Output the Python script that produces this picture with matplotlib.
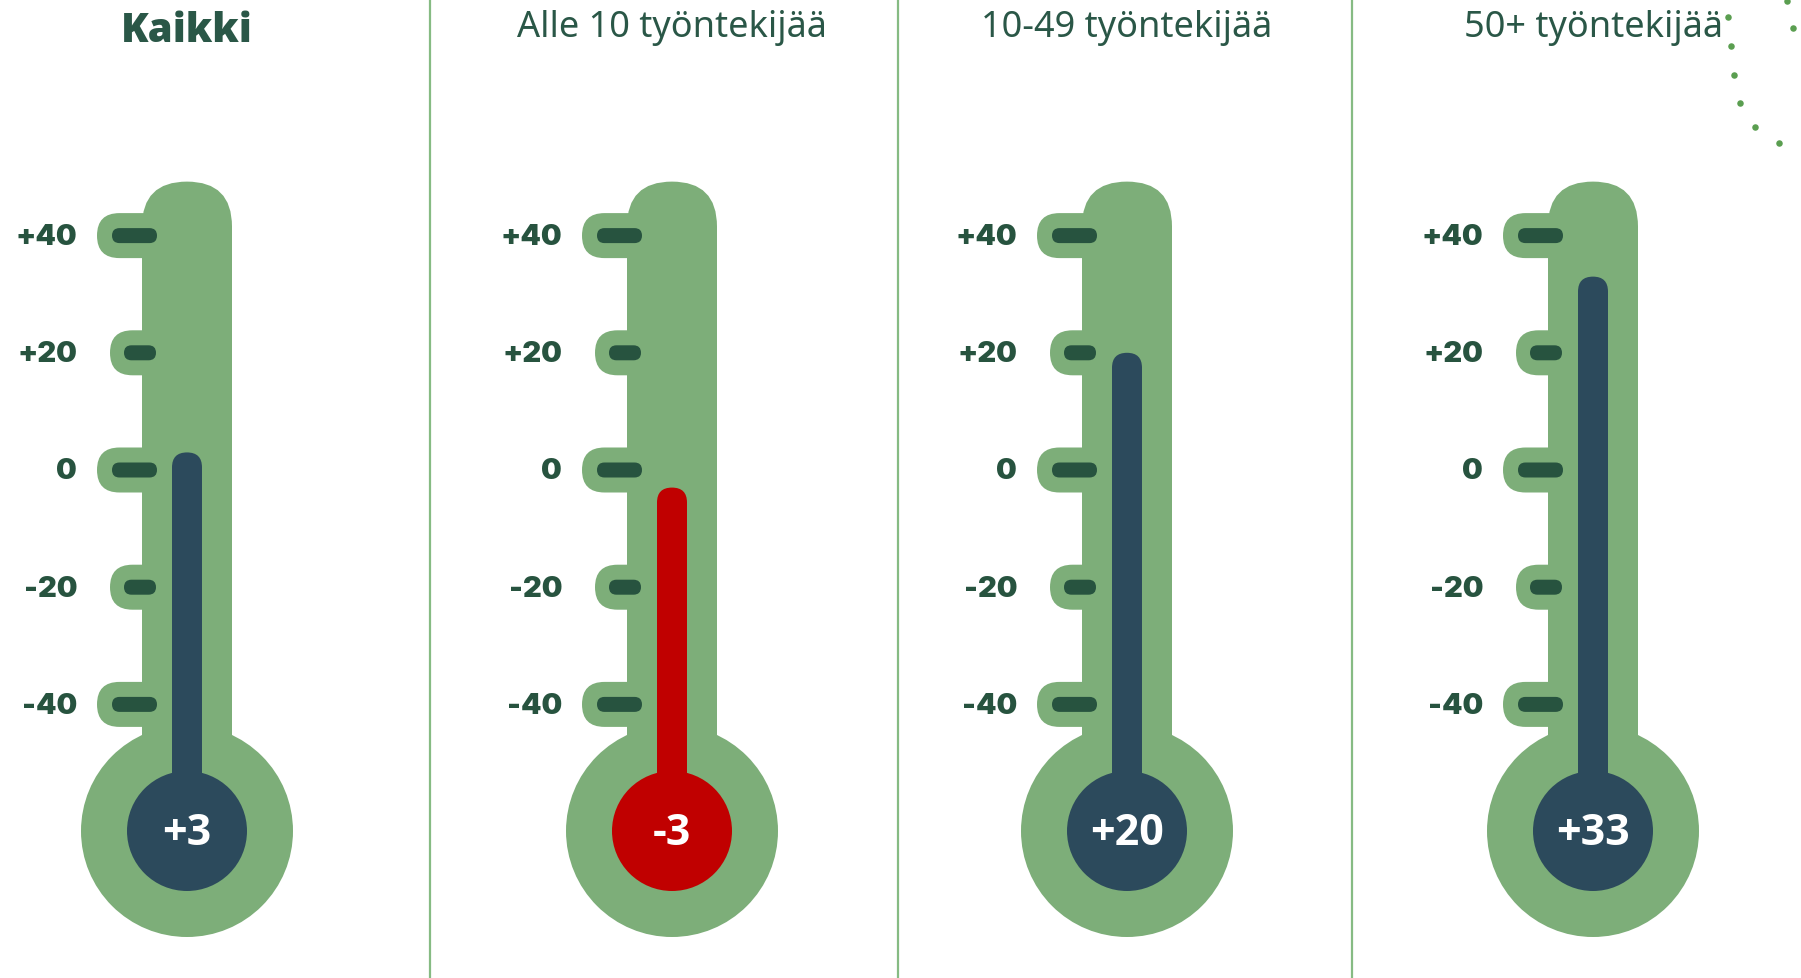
import matplotlib.pyplot as plt
from matplotlib.patches import Circle, FancyBboxPatch

# data
groups = ["Kaikki", "Alle 10 työntekijää", "10-49 työntekijää", "50+ työntekijää"]
values = [3, -3, 20, 33]
value_labels = ["+3", "-3", "+20", "+33"]
tick_values = [40, 20, 0, -20, -40]
tick_labels = ["+40", "+20", "0", "-20", "-40"]

# colours
GREEN = "#7dae79"
DARK = "#27533f"
MERCURY = "#2c4a5c"
RED = "#c00000"
TEXT = "#2a5747"
LINE = "#86bb83"
DOT = "#5a9e50"

W, H = 1801, 979
centers = [187, 672, 1127, 1593]
dividers = [430, 898, 1352]

# value scale (pixels)
Y0 = 471
PX_PER_UNIT = 5.86


def yv(v):
    return Y0 - PX_PER_UNIT * v


fig = plt.figure(figsize=(W / 100, H / 100), dpi=100)
ax = fig.add_axes([0, 0, 1, 1])
ax.set_xlim(0, W)
ax.set_ylim(H, 0)
ax.axis("off")

STEM_HW = 45
BULB_Y = 832
BULB_R = 106
INNER_R = 60
MERC_HW = 15


def pill(x0, x1, yc, r, color, z):
    ax.add_patch(FancyBboxPatch((x0, yc - r), x1 - x0, 2 * r,
                                boxstyle=f"round,pad=0,rounding_size={r}",
                                fc=color, ec="none", zorder=z))


for cx, name, val, lab in zip(centers, groups, values, value_labels):
    # stem + dome
    top = yv(40) - 54
    ax.add_patch(FancyBboxPatch((cx - STEM_HW, top), 2 * STEM_HW, BULB_Y - top,
                                boxstyle=f"round,pad=0,rounding_size={STEM_HW}",
                                fc=GREEN, ec="none", zorder=1))
    ax.add_patch(Circle((cx, BULB_Y), BULB_R, fc=GREEN, ec="none", zorder=1))

    # ticks
    for i, (tv, tl) in enumerate(zip(tick_values, tick_labels)):
        y = yv(tv)
        if i % 2 == 0:
            pill(cx - 90, cx, y, 22.5, GREEN, 1)
            pill(cx - 75, cx - 30, y, 7.5, DARK, 2)
        else:
            pill(cx - 77, cx, y, 22.5, GREEN, 1)
            pill(cx - 63, cx - 31, y, 7.5, DARK, 2)
        ax.text(cx - 110, y + 1, tl, ha="right", va="center", fontsize=21,
                fontweight=900, color=DARK, family="Inter")

    # mercury
    col = RED if val < 0 else MERCURY
    ytop = yv(val)
    ax.add_patch(FancyBboxPatch((cx - MERC_HW, ytop), 2 * MERC_HW, BULB_Y - ytop,
                                boxstyle=f"round,pad=0,rounding_size={MERC_HW}",
                                fc=col, ec="none", zorder=3))
    ax.add_patch(Circle((cx, BULB_Y), INNER_R, fc=col, ec="none", zorder=3))
    ax.text(cx, BULB_Y + 2, lab, ha="center", va="center", fontsize=31,
            fontweight="bold", color="white", family="Open Sans", zorder=4)

    # title
    if name == "Kaikki":
        ax.text(cx, 31, name, ha="center", va="center", fontsize=29,
                fontweight="heavy", color=TEXT, family="Open Sans")
    else:
        ax.text(cx, 28, name, ha="center", va="center", fontsize=26,
                color=TEXT, family="Noto Sans")

for xd in dividers:
    ax.plot([xd, xd], [2, H], color=LINE, lw=1.6, zorder=0)

# decorative dots, top right corner
dots_x = [1787, 1728, 1793, 1731, 1734, 1740, 1755, 1779]
dots_y = [2, 18, 29, 47, 76, 104, 128, 144]
ax.scatter(dots_x, dots_y, s=22, color=DOT, zorder=5, lw=0)

fig.savefig("out.png", dpi=100)
